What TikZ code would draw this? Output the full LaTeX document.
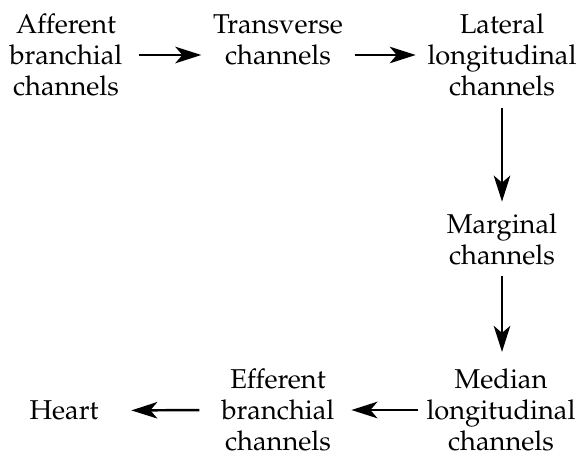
\documentclass[tikz,border=0pt]{standalone}
\usepackage[T1]{fontenc}
\usepackage{mathpazo}
\usepackage{tikz}
\usetikzlibrary{arrows.meta,positioning}

\begin{document}
\begin{tikzpicture}[
    chan/.style={align=center,inner sep=6.5pt,font=\fontsize{15.5}{17.6}\selectfont},
    flow/.style={line width=1.4pt,-{Stealth[length=5.2mm,width=3.3mm,inset=1.4mm]}}
  ]
  \useasboundingbox (0,0) rectangle (11.58,-9.18);
  \node[chan] (aff) at (1.32,-1.10) {Afferent\\branchial\\channels};
  \node[chan] (trans) at (5.56,-0.79) {Transverse\\channels};
  \node[chan] (lat) at (10.04,-1.10) {Lateral\\longitudinal\\channels};
  \node[chan] (marg) at (10.04,-4.78) {Marginal\\channels};
  \node[chan] (med) at (10.02,-8.20) {Median\\longitudinal\\channels};
  \node[chan] (eff) at (5.56,-8.20) {Efferent\\branchial\\channels};
  \node[chan] (heart) at (1.28,-8.21) {Heart};

  \draw[flow,shorten <=3pt] (aff.east) -- (aff.east -| trans.west);
  \draw[flow] (trans.east |- lat.west) -- (lat.west);
  \draw[flow] (lat.south -| marg.north) -- (marg.north);
  \draw[flow,shorten >=3pt] (marg.south) -- (marg.south |- med.north);
  \draw[flow,shorten <=-2pt,shorten >=3pt] (med.west) -- (eff.east);
  \draw[flow,shorten <=6pt,shorten >=12pt] (eff.west) -- (heart.east);
\end{tikzpicture}
\end{document}
